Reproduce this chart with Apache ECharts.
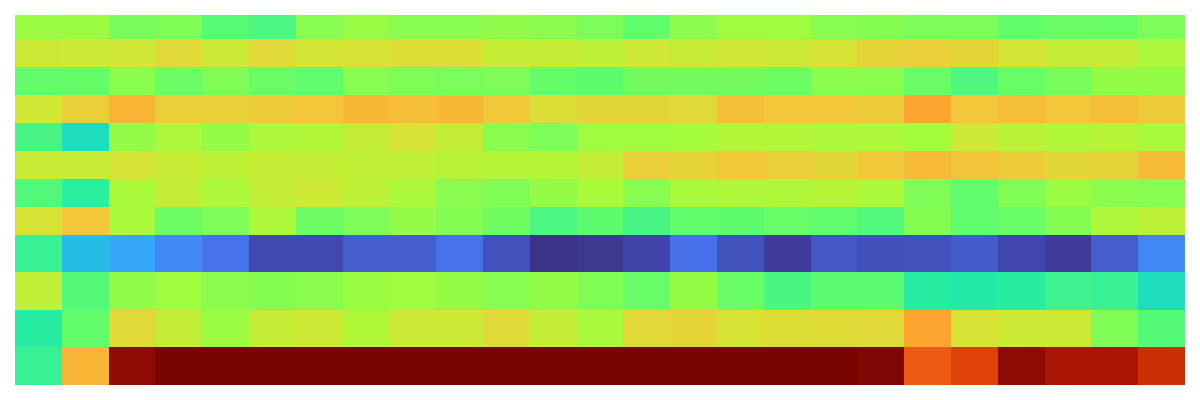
<!DOCTYPE html>
<html>
<head>
<meta charset="utf-8">
<title>Heatmap</title>
<script src="https://cdn.jsdelivr.net/npm/echarts@6/dist/echarts.min.js"></script>
<style>
  html, body { margin: 0; padding: 0; background: #ffffff; }
  #chart { width: 1200px; height: 400px; }
</style>
</head>
<body>
<div id="chart"></div>
<script>
// turbo 色阶
const TURBO = [
  "#30123b", "#4145ab", "#4675ed", "#39a2fc", "#1bcfd4",
  "#24eca6", "#61fc6c", "#a4fc3b", "#d1e834", "#f3c63a",
  "#fe9b2d", "#f36315", "#d93806", "#b11901", "#7a0402",
];

const columns = Array.from({ length: 25 }, (v, idx) => idx + 1);

// row bin edges, top to bottom
const rowEdges = [0, 2.4, 5.2, 8, 10.8, 13.6, 16.4, 19.2, 22, 25.7, 29.5, 33.2, 37];

const row01 = [48.9, 49.1, 45.3, 46.1, 41.8, 40.4, 47.0, 48.7, 47.0, 47.0, 47.9, 47.1, 45.7, 42.9, 47.4, 49.6, 49.6, 47.0, 46.6, 45.7, 45.9, 43.1, 43.8, 43.6, 45.7];
const row02 = [56.4, 56.2, 57.1, 60.3, 56.4, 60.3, 57.8, 58.2, 59.4, 59.4, 55.4, 55.1, 54.1, 56.6, 55.7, 57.0, 56.4, 58.2, 61.4, 62.1, 61.1, 57.8, 55.1, 55.1, 51.3];
const row03 = [43.2, 43.4, 47.4, 44.0, 46.1, 43.8, 42.7, 47.0, 46.1, 45.5, 45.9, 43.4, 42.6, 44.9, 44.9, 44.9, 44.0, 47.4, 47.4, 43.8, 40.7, 43.6, 45.3, 48.4, 48.4];
const row04 = [57.1, 62.1, 67.3, 62.1, 62.1, 62.9, 64.3, 66.6, 65.3, 66.6, 63.6, 59.3, 60.7, 60.7, 60.3, 65.3, 64.1, 64.1, 62.9, 69.9, 64.1, 65.6, 64.1, 65.6, 62.9];
const row05 = [39.9, 31.8, 48.3, 51.3, 48.4, 51.4, 52.1, 55.1, 57.9, 55.1, 47.1, 45.9, 49.6, 49.6, 50.0, 52.4, 52.4, 51.3, 51.3, 50.0, 56.4, 53.4, 51.9, 52.9, 50.7];
const row06 = [55.7, 55.7, 57.9, 55.7, 53.8, 55.1, 55.1, 54.4, 54.4, 53.1, 52.6, 52.6, 55.1, 62.1, 61.4, 63.6, 62.5, 60.7, 63.6, 66.1, 64.6, 62.9, 60.4, 61.4, 66.1];
const row07 = [41.1, 36.6, 50.9, 55.1, 51.3, 55.1, 56.6, 53.8, 51.3, 47.1, 46.1, 48.3, 50.7, 47.0, 50.7, 51.9, 51.9, 52.9, 51.3, 46.1, 42.7, 46.1, 49.1, 47.4, 47.0];
const row08 = [58.6, 64.3, 50.9, 44.0, 45.9, 51.3, 44.2, 45.9, 48.3, 46.6, 44.4, 40.4, 42.5, 39.9, 42.9, 42.5, 43.6, 42.7, 40.9, 46.6, 42.7, 43.6, 46.6, 51.3, 53.8];
const row09 = [37.9, 25.6, 22.1, 17.3, 13.9, 7.6, 7.6, 10.9, 10.9, 13.9, 9.1, 4.8, 5.4, 7.0, 13.6, 9.1, 5.9, 10.0, 8.8, 9.1, 10.6, 7.3, 5.9, 10.9, 17.3];
const row10 = [54.4, 41.4, 47.9, 49.6, 47.4, 46.6, 47.4, 49.1, 49.6, 48.4, 47.0, 48.4, 46.1, 43.6, 48.4, 43.6, 40.1, 42.4, 42.4, 36.1, 35.2, 36.1, 38.6, 37.9, 31.8];
const row11 = [36.1, 43.0, 60.3, 55.1, 49.1, 55.1, 56.6, 51.9, 56.4, 56.4, 60.3, 55.1, 50.7, 60.3, 61.4, 58.2, 59.6, 60.0, 60.3, 69.9, 58.6, 56.4, 56.4, 46.1, 41.4];
const row12 = [37.9, 67.3, 97.6, 100, 100, 100, 100, 100, 100, 100, 100, 100, 100, 100, 100, 100, 100, 100, 99.3, 80.1, 84.1, 97.6, 93.8, 93.8, 88.2];

const rows = [row01, row02, row03, row04, row05, row06, row07, row08, row09, row10, row11, row12];

function getChartOption() {
  const seriesData = [];
  rows.forEach((row, r) => {
    row.forEach((value, c) => {
      seriesData.push([c, r, value]);
    });
  });

  return {
    animation: false,
    grid: {
      left: 15,
      right: 15,
      top: 15,
      bottom: 15,
    },
    xAxis: {
      type: "value",
      min: 0,
      max: columns.length,
      show: false,
    },
    yAxis: {
      type: "value",
      inverse: true,
      min: rowEdges[0],
      max: rowEdges[rowEdges.length - 1],
      show: false,
    },
    visualMap: {
      show: false,
      type: "continuous",
      seriesIndex: 0,
      dimension: 2,
      min: 0,
      max: 100,
      inRange: {
        color: TURBO,
      },
    },
    series: [
      {
        type: "custom",
        data: seriesData,
        renderItem: (params, api) => {
          const col = api.value(0);
          const r = api.value(1);
          const p0 = api.coord([col, rowEdges[r]]);
          const p1 = api.coord([col + 1, rowEdges[r + 1]]);
          // 取整，避免格子之间出现细缝
          const x0 = Math.round(p0[0]);
          const x1 = Math.round(p1[0]);
          const y0 = Math.round(Math.min(p0[1], p1[1]));
          const y1 = Math.round(Math.max(p0[1], p1[1]));
          return {
            type: "rect",
            shape: {
              x: x0,
              y: y0,
              width: x1 - x0,
              height: y1 - y0,
            },
            style: {
              fill: api.visual("color"),
            },
          };
        },
      },
    ],
  };
}

const chart = echarts.init(document.getElementById("chart"));
chart.setOption(getChartOption());
</script>
</body>
</html>
